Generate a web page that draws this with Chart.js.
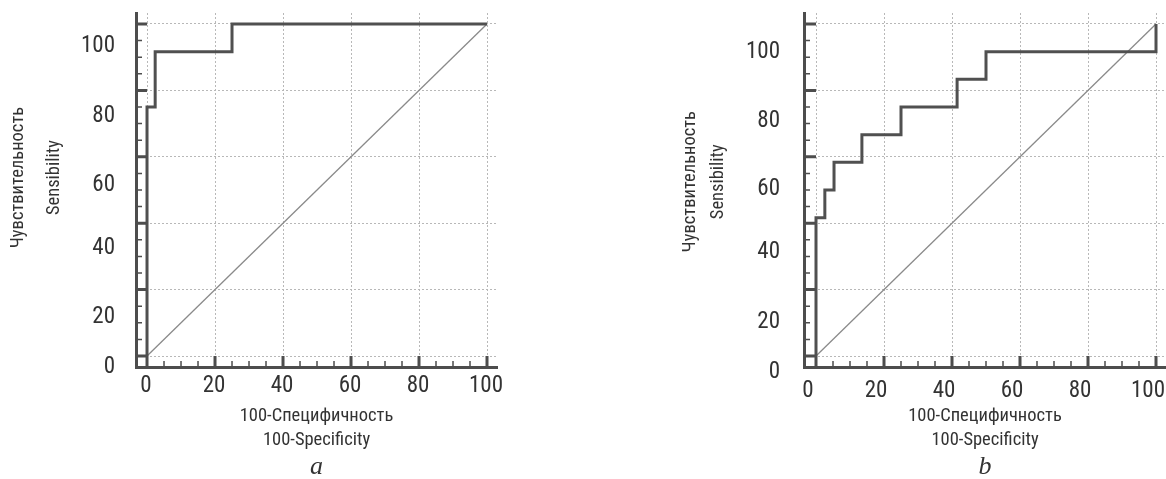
<!DOCTYPE html>
<html>
<head>
<meta charset="utf-8">
<script src="https://cdn.jsdelivr.net/npm/chart.js@4"></script>
<style>
  body { margin: 0; background: #fff; }
  .wrap { position: absolute; top: 0; height: 479px; }
  #wa { left: 0; width: 510px; }
  #wb { left: 670px; width: 496px; }
</style>
</head>
<body>
<div class="wrap" id="wa"><canvas id="roc-a"></canvas></div>
<div class="wrap" id="wb"><canvas id="roc-b"></canvas></div>
<script>
// ROC curve a (100-specificity, sensitivity), step corners
const fprA = [0, 0, 2.4, 25, 100];
const tprA = [0, 75, 91.67, 100, 100];

// ROC curve b
const fprB = [0, 0, 2.6, 5.3, 13.5, 25, 41.5, 50, 100];
const tprB = [0, 41.67, 50, 58.33, 66.67, 75, 83.33, 91.67, 100];

// chance line
const diagX = [0, 100];
const diagY = [0, 100];

const gridTicks = [0, 20, 40, 60, 80, 100];
const yTickLabels = ["100", "80", "60", "40", "20", "0"];
// the y labels are printed off the gridlines, these are where they sit
const yLabelAtA = [93.2, 72.3, 51.4, 32.5, 11.6, -3.3];
const yLabelAtB = [91.4, 70.6, 50.2, 31.3, 10.2, -5.0];

const FONT = '"Roboto Condensed", "Open Sans", sans-serif';
const AXIS = "#4d4d4d";
const TEXT = "#333";

// short tick marks drawn inside the axes (major ones reach the 0 gridline)
const innerTicks = {
  id: "innerTicks",
  afterDraw(chart) {
    const ctx = chart.ctx;
    const xs = chart.scales.x;
    const ys = chart.scales.y;
    const x0 = xs.getPixelForValue(0);
    const y0 = ys.getPixelForValue(0);
    ctx.save();
    ctx.strokeStyle = AXIS;
    for (let v = 0; v <= 100; v += 5) {
      const major = v % 20 === 0;
      const px = xs.getPixelForValue(v);
      const py = ys.getPixelForValue(v);
      ctx.lineWidth = major ? 3 : 1.5;
      ctx.beginPath();
      ctx.moveTo(px, ys.bottom);
      ctx.lineTo(px, major ? y0 : ys.bottom - 6);
      ctx.moveTo(xs.left, py);
      ctx.lineTo(major ? x0 : xs.left + 6, py);
      ctx.stroke();
    }
    ctx.restore();
  },
};

// no extra room for labels hanging over the ends
function noOverhang(s) {
  s.paddingTop = 0;
  s.paddingBottom = 0;
  s.paddingLeft = 0;
  s.paddingRight = 0;
}

function rocChart(id, fpr, tpr, yLabelAt, p) {
  const yMin = -3.31;
  const yMax = 103.31;
  const lift = "\u2002".repeat(p.lift);
  return new Chart(document.getElementById(id), {
    type: "line",
    data: {
      datasets: [
        {
          data: fpr.map((x, i) => ({ x: x, y: tpr[i] })),
          stepped: "before",
          borderColor: "#505050",
          borderWidth: 3,
          pointRadius: 0,
          fill: false,
        },
        {
          data: diagX.map((x, i) => ({ x: x, y: diagY[i] })),
          borderColor: "#8a8a8a",
          borderWidth: 1.3,
          pointRadius: 0,
          fill: false,
        },
      ],
    },
    options: {
      responsive: true,
      maintainAspectRatio: false,
      animation: false,
      events: [],
      layout: { padding: { top: 13, right: p.padRight, left: 0, bottom: 0 } },
      scales: {
        x: {
          type: "linear",
          min: p.xMin,
          max: p.xMax,
          afterBuildTicks: (s) => {
            s.ticks = gridTicks.map((v) => ({ value: v }));
          },
          afterFit: (s) => {
            s.height = 88;
            noOverhang(s);
          },
          grid: { color: "#b8b8b8", lineWidth: 1, drawTicks: false },
          border: { color: AXIS, width: 3, dash: [2, 2] },
          ticks: {
            autoSkip: false,
            maxRotation: 0,
            padding: p.xPad,
            labelOffset: p.xOff,
            color: TEXT,
            font: { family: FONT, size: 23 },
          },
          title: {
            display: true,
            text: ["100-Специфичность", "100-Specificity"],
            color: TEXT,
            font: { family: FONT, size: 18.5, lineHeight: 24 / 18.5 },
            padding: { top: 0, bottom: 3 },
          },
        },
        y: {
          type: "linear",
          position: "left",
          weight: 0,
          min: yMin,
          max: yMax,
          afterBuildTicks: (s) => {
            s.ticks = gridTicks.map((v) => ({ value: v }));
          },
          afterFit: (s) => {
            s.width = 0;
            noOverhang(s);
          },
          grid: { color: "#b8b8b8", lineWidth: 1, drawTicks: false },
          border: { color: AXIS, width: 3, dash: [2, 2] },
          ticks: { display: false },
        },
        yLab: {
          type: "linear",
          position: "left",
          weight: 1,
          min: yMin,
          max: yMax,
          afterBuildTicks: (s) => {
            s.ticks = yLabelAt.map((v) => ({ value: v }));
          },
          afterFit: (s) => {
            s.width = p.labW;
            noOverhang(s);
          },
          grid: { display: false, drawTicks: false },
          border: { display: false },
          ticks: {
            autoSkip: false,
            padding: p.yPad,
            color: TEXT,
            font: { family: FONT, size: 23 },
            callback: (v, i) => yTickLabels[i],
          },
          title: {
            display: true,
            text: [lift + "Чувствительность", lift + "Sensibility"],
            color: TEXT,
            font: { family: FONT, size: 18.5, lineHeight: p.titleLh / 18.5 },
            padding: { top: p.titlePad, bottom: 0 },
          },
        },
      },
      plugins: {
        legend: { display: false },
        tooltip: { enabled: false },
        title: {
          display: true,
          text: p.letter,
          position: "bottom",
          fullSize: false,
          color: TEXT,
          font: { family: '"Liberation Serif", "DejaVu Serif", serif', style: "italic", weight: "normal", size: 26, lineHeight: 24 / 26 },
          padding: { top: 0, bottom: 0 },
        },
      },
    },
    plugins: [innerTicks],
  });
}

rocChart("roc-a", fprA, tprA, yLabelAtA, {
  xMin: -3.24, xMax: 102.94, padRight: 13, labW: 136,
  yPad: 21, xPad: 5, xOff: -1, titleLh: 36, titlePad: 0, lift: 3, letter: "a",
});

rocChart("roc-b", fprB, tprB, yLabelAtB, {
  xMin: -3.53, xMax: 102.94, padRight: 0, labW: 134,
  yPad: 24, xPad: 10, xOff: -8, titleLh: 28, titlePad: 6, lift: 2, letter: "b",
});
</script>
</body>
</html>
